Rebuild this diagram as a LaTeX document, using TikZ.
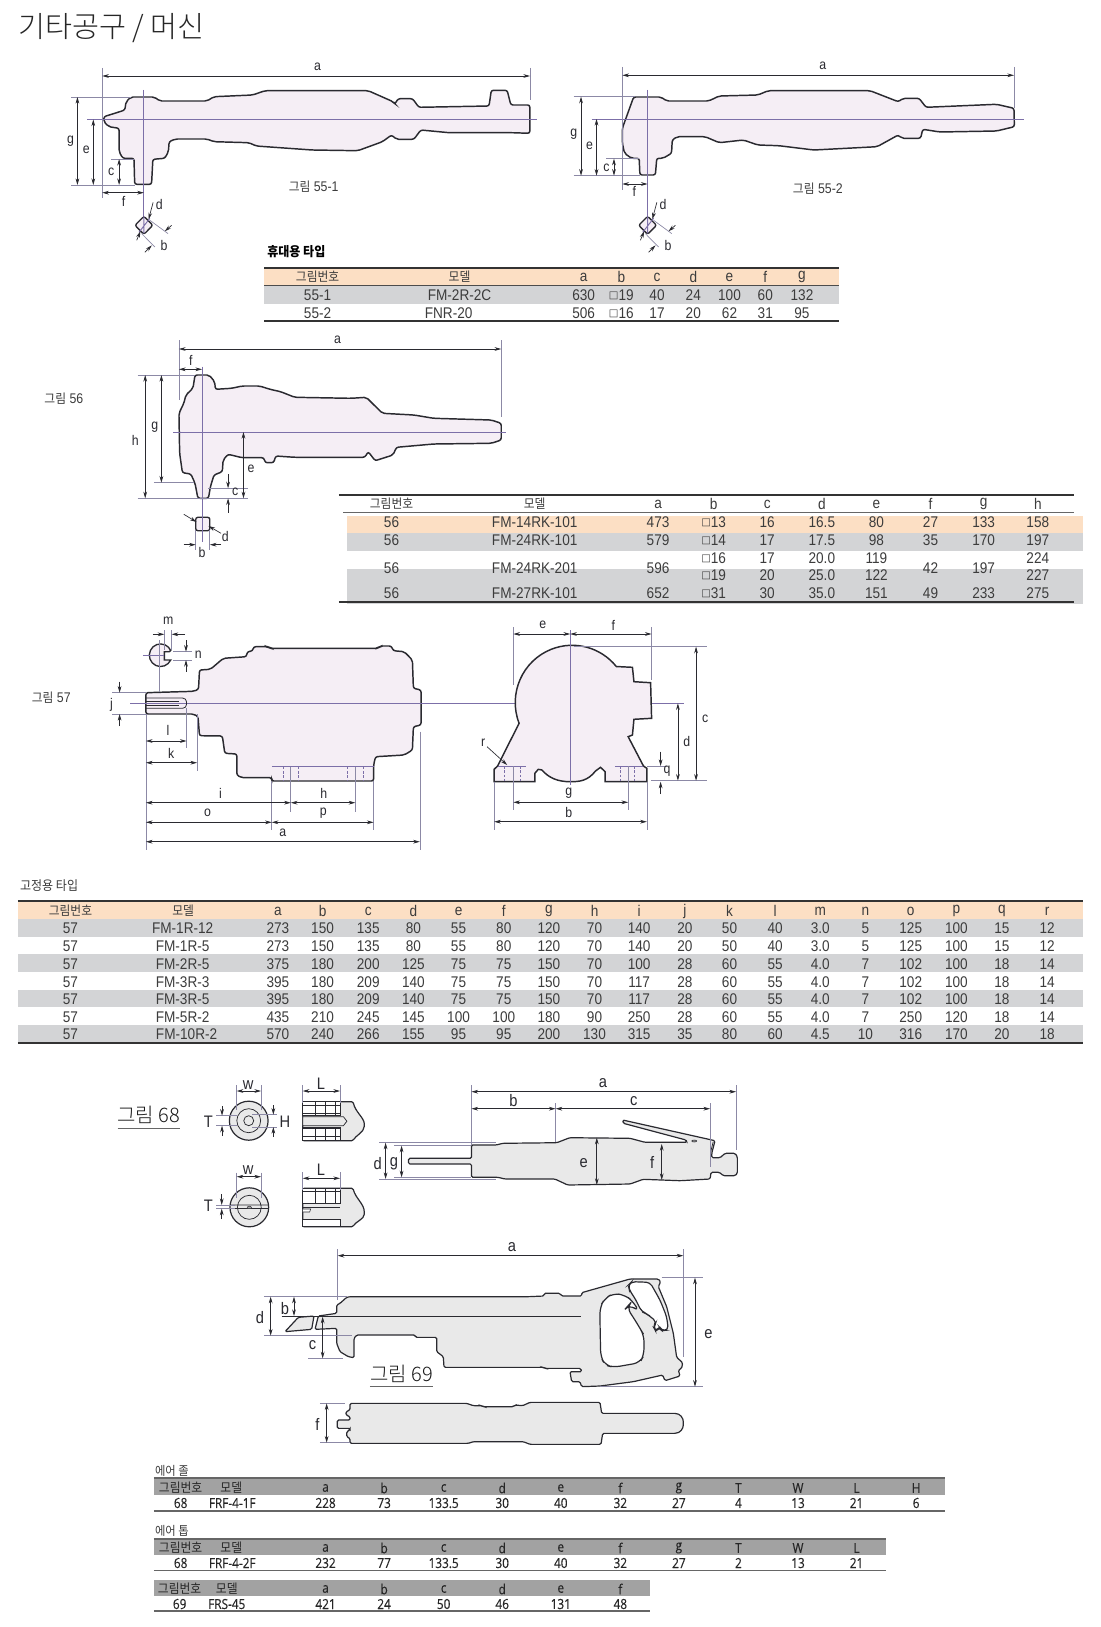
\documentclass[tikz,border=0pt]{standalone}
\usepackage{fontspec}
\usetikzlibrary{arrows.meta}
\setmainfont{Liberation Sans}[FakeStretch=0.88]
\newfontfamily\krfont{Noto Sans CJK KR}[FakeStretch=0.92]
\newfontfamily\krlight{Noto Sans CJK KR Light}
\newfontfamily\djfont{DejaVu Sans}
\newfontfamily\btfont{Open Sans}[FakeStretch=0.85,FakeBold=0.3]
\newcommand{\sqm}{\raisebox{1pt}{\djfont\fontsize{7.6}{8}\selectfont □}}
\newcommand{\kh}[1]{{\krfont\fontsize{9.6}{11}\selectfont #1}}
\definecolor{peach}{HTML}{FCDFC4}
\definecolor{bandg}{HTML}{D3D4D6}
\definecolor{darkb}{HTML}{A2A2A2}
\definecolor{toolf}{HTML}{F5EEF5}
\definecolor{greyf}{HTML}{E9E9E9}
\definecolor{ink}{HTML}{2A2A30}
\definecolor{cl}{HTML}{7C6FA8}
\definecolor{ex}{HTML}{8C89A6}
\definecolor{txt}{HTML}{3C3C3C}
\tikzset{
 cell/.style={inner sep=0pt,text=txt,font=\fontsize{11.6}{13}\selectfont},
 cellb/.style={inner sep=0pt,text=black!85,font=\btfont\fontsize{10.4}{13}\selectfont},
 lbl/.style={inner sep=0pt,text=ink,font=\fontsize{10.5}{12}\selectfont},
 lblb/.style={inner sep=0pt,text=ink,font=\fontsize{12.5}{14}\selectfont},
 tool/.style={draw=ink,fill=toolf,line width=1.1pt,rounded corners=1.6pt},
 gtool/.style={draw=ink,fill=greyf,line width=.9pt,rounded corners=1pt},
 thin/.style={draw=ink,line width=.55pt},
 dm/.style={draw=ink,line width=.5pt,{Stealth[length=5pt,width=2.8pt]}-{Stealth[length=5pt,width=2.8pt]}},
 dmo/.style={draw=ink,line width=.5pt,-{Stealth[length=5pt,width=2.8pt]}},
 ext/.style={draw=ex,line width=.5pt},
 ctr/.style={draw=cl,line width=.7pt},
 dsh/.style={draw=cl,line width=.5pt,dashed,dash pattern=on 2pt off 1.2pt},
 rule/.style={draw=black!80,line width=1.3pt},
}
\newcommand{\rowcells}[4]{\foreach \cx/\ct [count=\ci] in {#4} {\node[#3] (#1-\ci) at (\cx,#2) {\ct};}}
\begin{document}
\begin{tikzpicture}[x=0.7444pt,y=-0.75pt]
\useasboundingbox (0,0) rectangle (1108.3,1627);
\fill[white] (0,0) rectangle (1108.3,1627);
\node[anchor=west,inner sep=0pt,text=black!85] (title) at (18,28) {\krlight\fontsize{22}{26}\selectfont 기타공구 / 머신};

%% ---------- Fig 55-1
\path[tool] (104.6,116.7)--(118.8,112.3)--(125.8,110)--(127,101.7)--(132,97)--(155.5,97)--(161,101)--(208.5,101)--(215.6,96.7)--(254.5,95)--(267,90.7)--(371,90.7)--(396,101.7)--(398,104)--(401,98.7)--(415.7,98.7)--(422,107.3)--(492.7,106)--(495,90.3)--(511,90.3)--(514.7,105)--(533.8,105)--(533.8,133.3)--(516,132.7)--(452.5,132.7)--(424,130)--(417,139.3)--(399.4,139.3)--(394.5,135)--(385.3,141.7)--(360.5,150.7)--(314.6,150)--(258,146)--(251,142.7)--(215.6,141.7)--(208.5,139)--(176.7,139)--(170.4,141.7)--(169.7,151.7)--(166,158.3)--(154,159.3)--(152.7,184.3)--(135.7,184.3)--(135,158.3)--(123.7,158.3)--(120,151.7)--(120,128.3)--(109.6,126.7)--(104.6,121.7)--cycle;
\draw[ctr] (88,119.5)--(541,119.5);
\draw[ctr] (145,90)--(145,233);
\draw[ext] (103,68)--(103,198) (534,68)--(534,100) (72,97)--(132,97) (72,185)--(136,185) (112,159)--(135,159);
\draw[dm] (103,76)--(534,76);
\draw[dm] (78,97)--(78,185);
\draw[dm] (94,119.5)--(94,185);
\draw[dm] (120,159)--(120,185);
\draw[dm] (103,192.7)--(145,192.7);
\node[lbl] (a551) at (320,66.7) {a};
\node[lbl] (g551) at (71,140.7) {g};
\node[lbl] (e551) at (87,150) {e};
\node[lbl] (c551) at (112,172) {c};
\node[lbl] (f551) at (124.4,201.7) {f};
\node[lbl] (d551) at (160.5,204) {d};
\node[lbl] (b551) at (165.4,245) {b};
\node[cell,font=\fontsize{10.5}{12}\selectfont] (n551) at (316,186.7) {\kh{그림} 55-1};

%% ---------- Fig 55-2
\path[tool] (627,128.3)--(638.4,97)--(666,97)--(671.6,101)--(714,101)--(724.6,96)--(763.5,95)--(774,90.7)--(876.6,90.7)--(905,101.7)--(910,98.3)--(926,98.3)--(933,107.3)--(1004,104.3)--(1021.6,108.3)--(1022,126.7)--(1004,131)--(947,132)--(929.7,129.3)--(927.5,138.3)--(908.5,138.3)--(905,135)--(883.7,146.7)--(820,150)--(784.7,145.7)--(763.5,145)--(749,140)--(724.6,142.7)--(710.5,136.7)--(682.2,136.7)--(677.3,140)--(676.6,153.3)--(668,158.3)--(661.7,158.3)--(660.3,175)--(644.7,175)--(644,158.3)--(636.3,158.3)--(629.2,153.3)--(627,143)--cycle;
\draw[ctr] (596,119)--(1032,119);
\draw[ctr] (652.5,90)--(652.5,233);
\draw[ext] (627,67)--(627,190) (1021.6,67)--(1021.6,108) (578,96.7)--(640,96.7) (578,175.7)--(645,175.7) (611,158.7)--(644,158.7);
\draw[dm] (627,75.3)--(1021.6,75.3);
\draw[dm] (585.4,96.7)--(585.4,175.7);
\draw[dm] (601,119)--(601,175.7);
\draw[dm] (618.6,158.7)--(618.6,175.7);
\draw[dm] (627,184)--(652.5,184);
\node[lbl] (a552) at (829,66) {a};
\node[lbl] (g552) at (578,134.3) {g};
\node[lbl] (e552) at (594,146) {e};
\node[lbl] (c552) at (611,167.7) {c};
\node[lbl] (f552) at (639,191.7) {f};
\node[lbl] (d552) at (668,204) {d};
\node[lbl] (b552) at (673,245) {b};
\node[cell,font=\fontsize{10.5}{12}\selectfont] (n552) at (824,188.3) {\kh{그림} 55-2};

%% diamonds
\foreach \dx in {145,652.5}{
\begin{scope}[shift={(\dx,225.3)}]
\path[tool,line width=1pt,rounded corners=1.5pt] (0,-9)--(9,0)--(0,9)--(-9,0)--cycle;
\draw[ctr] (6,-7)--(-5,7) (0,-9)--(0,8);
\draw[ext] (6,-5)--(24.3,8.3) (-2.3,8.3)--(11,21.7);
\draw[dmo] (9.3,-23)--(4.7,-6);
\draw[dmo] (-7.3,15)--(-3.5,6);
\draw[dmo] (28,0)--(21,6);
\draw[dmo] (1,27)--(8,20);
\end{scope}}

%% ---------- Table 55
\node[anchor=west,inner sep=0pt] (t55lab) at (269,252) {\krfont\fontsize{9.8}{11}\selectfont\bfseries 휴대용 타입};
\fill[peach] (266,268) rectangle (845,285);
\fill[bandg] (266,286) rectangle (845,303.5);
\draw[rule] (266,268)--(845,268);
\draw[draw=black!70,line width=.7pt] (266,285.5)--(845,285.5);
\draw[rule] (266,321)--(845,321);
\rowcells{h55}{277}{cell}{320/\kh{그림번호},463/\kh{모델},588/a,626/b,662/c,698.5/d,735/e,771/f,808/g}
\rowcells{r551}{295}{cell}{320/55-1,463/FM-2R-2C,588/630,626/\sqm19,662/40,698.5/24,735/100,771/60,808/132}
\rowcells{r552}{313}{cell}{320/55-2,452/FNR-20,588/506,626/\sqm16,662/17,698.5/20,735/62,771/31,808/95}

%% ---------- Fig 56
\path[tool] (196.5,375)--(210.7,375)--(216.3,381.7)--(217,389.3)--(233.3,388.3)--(244,386)--(261.6,386)--(272,389.3)--(282.8,391.7)--(297,397.3)--(353.5,398.3)--(369,397.3)--(385.3,413.3)--(417,415)--(437,418.3)--(495,420)--(505,423.3)--(505,440)--(495,443.3)--(437,444)--(399.4,447.3)--(396,455)--(378,460.7)--(371,451.7)--(367.6,457.3)--(297,457.3)--(277.8,456)--(275.7,462.7)--(267.2,462.7)--(265.8,457.7)--(244,457.7)--(229.8,454.3)--(224.8,460)--(224,471.7)--(215.6,475)--(212,486.7)--(210,498.3)--(199.4,498.3)--(196.5,483.3)--(192.3,474)--(183.8,472.7)--(181,453.3)--(180.3,413.3)--(185.2,403.3)--(187.3,395)--(194.4,388.3)--cycle;
\draw[ctr] (174.6,432)--(510,432);
\draw[ctr] (203.6,366.7)--(203.6,541.7);
\draw[ext] (180.3,340)--(180.3,400) (505,340)--(505,416.7) (138.6,375)--(196,375) (138.6,498.3)--(250,498.3) (155,482.7)--(195,482.7) (210,488.3)--(250,488.3);
\draw[dm] (180.3,349)--(505,349);
\draw[dm] (180.3,369.3)--(203.6,369.3);
\draw[dm] (146.3,375)--(146.3,498.3);
\draw[dm] (162.6,375)--(162.6,482.7);
\draw[dm] (245.3,432)--(245.3,498.3);
\draw[dmo] (229.8,474)--(229.8,488.3);
\draw[dmo] (229.8,512.7)--(229.8,498.3);
\node[lbl] (a56) at (340,340) {a};
\node[lbl] (f56) at (192.3,360) {f};
\node[lbl] (h56) at (136.4,440) {h};
\node[lbl] (g56) at (156,427.3) {g};
\node[lbl] (e56) at (253,469) {e};
\node[lbl] (c56) at (237,492) {c};
\path[tool,line width=1pt] (197.2,517.3) rectangle (211.4,530.7);
\draw[ctr] (203.6,515)--(203.6,535);
\draw[ext] (197.2,530)--(197.2,550) (211.4,530)--(211.4,550);
\draw[dmo] (185.2,514.3)--(198,522);
\draw[dmo] (222.7,533.3)--(210,526);
\draw[dmo] (185,544.7)--(197.2,544.7);
\draw[dmo] (222.7,544.7)--(211.4,544.7);
\node[lbl] (d56) at (227,536) {d};
\node[lbl] (b56) at (203.6,552.3) {b};
\node[cell,font=\fontsize{10.5}{12}\selectfont] (n56) at (64.3,399) {\kh{그림} 56};

%% ---------- Table 56
\fill[peach] (350,515.7) rectangle (1091,533);
\fill[bandg] (350,533) rectangle (1091,551);
\fill[bandg] (350,568.5) rectangle (1091,604);
\draw[rule] (341.5,495)--(1082,495);
\draw[draw=black!60,line width=1pt] (346,512.7)--(1082,512.7);
\draw[rule] (341.5,601.7)--(1082,601.7);
\rowcells{h56t}{504}{cell}{394.5/\kh{그림번호},538.7/\kh{모델},663/a,719/b,773/c,828/d,883/e,937.5/f,991/g,1045.6/h}
\rowcells{r561}{522}{cell}{394.5/56,538.7/FM-14RK-101,663/473,719/\sqm13,773/16,828/16.5,883/80,937.5/27,991/133,1045.6/158}
\rowcells{r562}{540}{cell}{394.5/56,538.7/FM-24RK-101,663/579,719/\sqm14,773/17,828/17.5,883/98,937.5/35,991/170,1045.6/197}
\rowcells{r563}{557.7}{cell}{719/\sqm16,773/17,828/20.0,883/119,1045.6/224}
\rowcells{r564}{575}{cell}{719/\sqm19,773/20,828/25.0,883/122,1045.6/227}
\rowcells{r56m}{568}{cell}{394.5/56,538.7/FM-24RK-201,663/596,937.5/42,991/197}
\rowcells{r565}{593}{cell}{394.5/56,538.7/FM-27RK-101,663/652,719/\sqm31,773/30,828/35.0,883/151,937.5/49,991/233,1045.6/275}

%% ---------- Fig 57 side view
\path[tool] (147,692.7)--(195.2,691.3)--(200,689.3)--(201,670)--(212,669.3)--(225,658.3)--(248.2,656.7)--(249.2,651.7)--(254.5,651)--(255.5,646.7)--(270,646.7)--(272.3,648.3)--(380.8,648.3)--(383.2,646)--(394.3,646)--(396.2,650.7)--(407.3,651.7)--(415.5,660)--(416.5,688.3)--(424.2,690)--(424.2,725)--(416.5,726.7)--(415.5,750)--(407.3,755)--(378.4,756.7)--(376.4,765)--(376.4,781)--(273.8,781)--(273.8,777.7)--(243.4,777.7)--(238.6,775)--(238.6,754)--(226.5,753.3)--(224,736)--(201,735.7)--(199.5,716.7)--(195.2,714)--(147,714)--cycle;
\draw[ctr] (273.8,766.7)--(376.4,766.7);
\draw[dsh] (285.8,766.7)--(285.8,781) (300.3,766.7)--(300.3,781) (350.4,766.7)--(350.4,781) (365.8,766.7)--(365.8,781);
\draw[ext] (293,766.7)--(293,811.7) (358,766.7)--(358,811.7);
\draw[ctr] (131,703.3)--(689,703.3);
\draw[draw=ink,line width=.6pt,rounded corners=3pt] (147,698)--(188,698)--(188,708.3)--(147,708.3);
\draw[draw=ink,line width=.3pt] (147,701)--(180,701) (147,705.5)--(180,705.5);
% key section
\path[draw=ink,fill=toolf,line width=1pt] (170.6,651.7)--(165.6,651.7)--(165.6,660)--(172,660) arc[start angle=25,end angle=335,radius=11.3]--cycle;
\draw[ctr] (144,655)--(165,655);
\draw[ext] (160.5,640)--(160.5,692);
\draw[ext] (165.6,630)--(165.6,650) (172.9,630)--(172.9,650) (174.6,651.7)--(193,651.7) (174.6,660)--(193,660);
\draw[dmo] (153.9,634.3)--(165.6,634.3);
\draw[dmo] (186.4,634.3)--(172.9,634.3);
\draw[dmo] (187.4,640)--(187.4,651.7);
\draw[dmo] (187.4,671.7)--(187.4,660);
\draw[ext] (113,692.7)--(147,692.7) (113,714)--(147,714);
\draw[dmo] (120.5,681.7)--(120.5,692.7);
\draw[dmo] (120.5,726)--(120.5,714);
\draw[ext] (147,714)--(147,850) (188,708)--(188,748) (198.6,714)--(198.6,770.7) (423,731.7)--(423,850) (273.8,781)--(273.8,830) (376.4,781)--(376.4,830);
\draw[dm] (147,741)--(188,741);
\draw[dm] (147,762.7)--(198.6,762.7);
\draw[dm] (147,802.7)--(293,802.7);
\draw[dm] (293,802.7)--(358,802.7);
\draw[dm] (147,822.3)--(273.8,822.3);
\draw[dm] (273.8,822.3)--(376.4,822.3);
\draw[dm] (147,841.7)--(423,841.7);
\node[lbl] (m57) at (169.6,620.7) {m};
\node[lbl] (n57) at (199.8,655) {n};
\node[lbl] (j57) at (112.3,705) {j};
\node[lbl] (l57) at (169.2,730.7) {l};
\node[lbl] (k57) at (172.6,753.3) {k};
\node[lbl] (i57) at (222.2,793.3) {i};
\node[lbl] (h57) at (326.3,793.3) {h};
\node[lbl] (o57) at (209.2,812.7) {o};
\node[lbl] (p57) at (325.8,812.7) {p};
\node[lbl] (a57) at (284.9,832.7) {a};
\node[cell,font=\fontsize{10.5}{12}\selectfont] (n57l) at (51.6,697.3) {\kh{그림} 57};

%% Fig 57 front view
\path[draw=ink,fill=toolf,line width=1.1pt] (523,723.3) arc[start angle=158.8,end angle=321,radius=57.3]--(637.2,667.3)--(638.7,681.7)--(655.5,682.7)--(656.5,718.3)--(638.7,719.3)--(637.2,735)--(632.9,736.7)--(648.3,766)--(651.7,768.3)--(651.7,781.7)--(609.7,781.7)--(609.7,771.7)--(605,767.3)--(600,771) .. controls (592,781) and (584,781.7) .. (574.5,781.7) .. controls (562,781.7) and (553,778) .. (546,770)--(542.3,769.3)--(538.9,773.3)--(538.9,781.7)--(497.9,781.7)--(497.9,769.3)--(501.3,766)--cycle;
\draw[ctr] (574.5,630)--(574.5,785);
\draw[ctr] (501.3,766)--(530,766) (619.4,766)--(648.3,766);
\draw[dsh] (508.5,766)--(508.5,781.7) (524.4,766)--(524.4,781.7) (625,766)--(625,781.7) (639.6,766)--(639.6,781.7);
\draw[ext] (517.2,627)--(517.2,685) (656.5,627)--(656.5,680) (578,646.7)--(712,646.7) (656,780.7)--(712,780.7) (652,766)--(672,766);
\draw[ext] (517.2,766)--(517.2,810) (632.9,766)--(632.9,810) (497.9,781.7)--(497.9,830) (651.7,781.7)--(651.7,830);
\draw[dm] (517.2,634)--(574.5,634);
\draw[dm] (574.5,634)--(656.5,634);
\draw[dm] (701.3,646.7)--(701.3,780.7);
\draw[dm] (683,703.3)--(683,780.7);
\draw[dmo] (665.6,751.7)--(665.6,766);
\draw[dmo] (665.6,794)--(665.6,781.7);
\draw[dm] (517.2,802.3)--(632.9,802.3);
\draw[dm] (497.9,821.7)--(651.7,821.7);
\draw[dmo] (490.7,746.7)--(511,765);
\node[lbl] (e57) at (547,625) {e};
\node[lbl] (f57) at (618,625) {f};
\node[lbl] (c57) at (710.5,719) {c};
\node[lbl] (d57) at (692,741.7) {d};
\node[lbl] (q57) at (672,771) {q};
\node[lbl] (g57) at (573,793.3) {g};
\node[lbl] (b57) at (573,812) {b};
\node[lbl] (r57) at (486.8,742.3) {r};

%% ---------- Table 57
\node[anchor=west,inner sep=0pt,text=txt] (t57lab) at (20,886) {\krfont\fontsize{9.8}{11}\selectfont 고정용 타입};
\fill[peach] (18,901) rectangle (1091,919);
\foreach \ya/\yb in {919/936.7,954/972,990/1007,1025/1042.7}{\fill[bandg] (18,\ya) rectangle (1091,\yb);}
\draw[rule] (18,901)--(1091,901);
\draw[rule] (18,1043)--(1091,1043);
\rowcells{h57t}{911}{cell}{71/\kh{그림번호},184.5/\kh{모델},280/a,325/b,371/c,416.5/d,462/e,507.6/f,553/g,599/h,644/i,690/j,735/k,781/l,826.5/m,872/n,917.6/o,963.6/p,1009.5/q,1055/r}
\newcommand{\rowft}[3]{\rowcells{#1}{#2}{cell}{71/57,#3}}
\rowft{q1}{928}{184/FM-1R-12,280/273,325/150,371/135,416.5/80,462/55,507.6/80,553/120,599/70,644/140,690/20,735/50,781/40,826.5/3.0,872/5,917.6/125,963.6/100,1009.5/15,1055/12}
\rowft{q2}{946}{184/FM-1R-5,280/273,325/150,371/135,416.5/80,462/55,507.6/80,553/120,599/70,644/140,690/20,735/50,781/40,826.5/3.0,872/5,917.6/125,963.6/100,1009.5/15,1055/12}
\rowft{q3}{964}{184/FM-2R-5,280/375,325/180,371/200,416.5/125,462/75,507.6/75,553/150,599/70,644/100,690/28,735/60,781/55,826.5/4.0,872/7,917.6/102,963.6/100,1009.5/18,1055/14}
\rowft{q4}{982}{184/FM-3R-3,280/395,325/180,371/209,416.5/140,462/75,507.6/75,553/150,599/70,644/117,690/28,735/60,781/55,826.5/4.0,872/7,917.6/102,963.6/100,1009.5/18,1055/14}
\rowft{q5}{999}{184/FM-3R-5,280/395,325/180,371/209,416.5/140,462/75,507.6/75,553/150,599/70,644/117,690/28,735/60,781/55,826.5/4.0,872/7,917.6/102,963.6/100,1009.5/18,1055/14}
\rowft{q6}{1017}{184/FM-5R-2,280/435,325/210,371/245,416.5/145,462/100,507.6/100,553/180,599/90,644/250,690/28,735/60,781/55,826.5/4.0,872/7,917.6/250,963.6/120,1009.5/18,1055/14}
\rowft{q7}{1034}{188/FM-10R-2,280/570,325/240,371/266,416.5/155,462/95,507.6/95,553/200,599/130,644/315,690/35,735/80,781/60,826.5/4.5,872/10,917.6/316,963.6/170,1009.5/20,1055/18}

%% ---------- Fig 68
\node[inner sep=0pt,text=black!90] (n68) at (150,1115) {\krlight\fontsize{15}{18}\selectfont 그림 68};
\draw[draw=black!60,line width=.6pt] (118.4,1128.3)--(181.7,1128.3);
% top end view
\path[draw=ink,fill=greyf,line width=.9pt] (250.6,1120.7) circle[radius=19.5];
\draw[thin] (250.6,1120.7) circle[radius=12] (250.6,1120.7) circle[radius=5];
\draw[ext] (238.5,1085)--(238.5,1110) (263,1085)--(263,1110) (218,1115.7)--(238.5,1115.7) (218,1125.7)--(238.5,1125.7) (254,1114.7)--(279,1114.7) (254,1127)--(279,1127);
\draw[dm] (238.5,1091)--(263,1091);
\draw[dmo] (223.7,1106)--(223.7,1115.7);
\draw[dmo] (223.7,1136)--(223.7,1125.7);
\draw[dmo] (275.4,1105)--(275.4,1114.7);
\draw[dmo] (275.4,1137)--(275.4,1127);
\node[lblb] (w68a) at (250,1085) {w};
\node[lblb] (t68a) at (210,1121.7) {T};
\node[lblb] (h68a) at (287,1121.7) {H};
% top side view
\path[gtool] (305,1101.7)--(355.7,1101.7) .. controls (358,1112) and (367,1118) .. (367,1125) .. controls (367,1132) and (358,1136) .. (355.7,1140.7)--(305,1140.7)--cycle;
\fill[white,draw=ink,line width=.55pt] (305,1101.7) rectangle (342.6,1115);
\fill[white,draw=ink,line width=.55pt] (305,1127) rectangle (342.6,1140.7);
\draw[thin] (305,1105)--(342.6,1105) (305,1113.3)--(342.6,1113.3) (305,1128.3)--(342.6,1128.3) (305,1136.7)--(342.6,1136.7) (317.4,1101.7)--(317.4,1115) (327.5,1101.7)--(327.5,1115) (337.5,1101.7)--(337.5,1115) (317.4,1127)--(317.4,1140.7) (327.5,1127)--(327.5,1140.7) (337.5,1127)--(337.5,1140.7);
\path[draw=ink,fill=greyf,line width=.55pt] (305,1116.7)--(346,1116.7)--(349.5,1121.2)--(346,1125.7)--(305,1125.7)--cycle;
\draw[ext] (305,1085)--(305,1103) (342.6,1085)--(342.6,1103);
\draw[dm] (305,1091)--(342.6,1091);
\node[lblb] (l68a) at (323.3,1084) {L};
% bottom end view
\path[draw=ink,fill=greyf,line width=.9pt] (251.2,1207.3) circle[radius=19.5];
\draw[thin] (251.2,1207.3) circle[radius=12] (232.5,1205)--(270,1205) (232.5,1208.6)--(270,1208.6);
\path[draw=ink,fill=black!35,line width=.4pt] (248.7,1208.6) arc[start angle=180,end angle=360,radius=2.5]--cycle;
\draw[ext] (238.5,1172.7)--(238.5,1198) (263,1172.7)--(263,1198) (218,1205)--(237,1205) (218,1208.6)--(237,1208.6);
\draw[dm] (238.5,1176.7)--(263,1176.7);
\draw[dmo] (223.4,1194)--(223.4,1205);
\draw[dmo] (223.4,1219)--(223.4,1208.6);
\node[lblb] (w68b) at (250,1170) {w};
\node[lblb] (t68b) at (210,1206) {T};
% bottom side view
\path[gtool] (305,1188.3)--(355.7,1188.3) .. controls (358,1198) and (367,1204) .. (367,1213) .. controls (367,1219) and (358,1222) .. (355.7,1226.7)--(305,1226.7)--cycle;
\fill[white,draw=ink,line width=.55pt] (305,1188.3) rectangle (342.6,1203.3);
\fill[white,draw=ink,line width=.55pt] (305,1219.3) rectangle (342.6,1226.7);
\draw[thin] (305,1191.7)--(342.6,1191.7) (305,1207.7)--(342.6,1207.7) (317.4,1188.3)--(317.4,1203.3) (327.5,1188.3)--(327.5,1203.3) (337.5,1188.3)--(337.5,1203.3);
\path[draw=ink,fill=white,line width=.4pt] (305,1209)--(313,1209)--(312,1212)--(305,1212)--cycle;
\draw[ext] (305,1172)--(305,1190) (342.6,1172)--(342.6,1190);
\draw[dm] (305,1178.3)--(342.6,1178.3);
\node[lblb] (l68b) at (323.3,1169.3) {L};
% air chisel
\path[gtool] (475,1145)--(475,1158.3)--(411.6,1158.3)--(411.6,1164)--(475,1164)--(475,1177.3)--(502,1177.3)--(508.7,1179)--(559,1179)--(572,1185)--(634.8,1184)--(648,1179.3)--(685.2,1180.7)--(715.4,1179)--(716.4,1172.3)--(724.8,1172.3)--(728.8,1175.7)--(740.6,1175.7)--(742.9,1173.3)--(742.9,1156.7)--(740.6,1153.3)--(730.5,1153.3)--(725.5,1157.7)--(717.1,1157.7)--(717.1,1153.3)--(720.4,1140.7)--(627.4,1120)--(628,1123.3)--(691.2,1140)--(692,1142.3)--(649.9,1142.3)--(634.8,1138.3)--(574,1137.7)--(561,1142.7)--(506.5,1143.3)--(500,1145)--cycle;
\path[draw=ink,fill=black!40,line width=.4pt] (699.4,1141) ellipse[x radius=2.5,y radius=1];
\draw[thin] (718.5,1142)--(716,1152);
\draw[ext] (475,1085)--(475,1145) (741.6,1085)--(741.6,1150) (559.8,1103)--(559.8,1142) (715.4,1103)--(715.4,1166.7) (382,1142.7)--(500,1142.7) (382,1179)--(500,1179) (397,1145.7)--(475,1145.7) (397,1177.3)--(475,1177.3);
\draw[dm] (475,1091.7)--(741.6,1091.7);
\draw[dm] (475,1108.7)--(559.8,1108.7);
\draw[dm] (559.8,1108.7)--(715.4,1108.7);
\draw[dm] (388.5,1142.7)--(388.5,1179);
\draw[dm] (404.6,1145.7)--(404.6,1177.3);
\draw[dm] (601.3,1137.7)--(601.3,1185);
\draw[dm] (666.7,1144)--(666.7,1180);
\node[lblb] (a68) at (607.4,1083.3) {a};
\node[lblb] (b68) at (517.4,1101) {b};
\node[lblb] (c68) at (638.5,1101) {c};
\node[lblb] (d68) at (380.6,1163.3) {d};
\node[lblb] (g68) at (397,1163.3) {g};
\node[lblb] (e68) at (588.2,1162.7) {e};
\node[lblb] (f68) at (657,1162.7) {f};

%% ---------- Fig 69 (in 3x crop coordinates)
\begin{scope}[shift={(241.8,1240)},x=0.25pt,y=-0.25pt]
\path[gtool] (330,170)--(865,170)--(912,168)--(912,160)--(960,160)--(965,168)--(1025,168)--(1025,158)--(1170,117)--(1255,117)--(1262,125)--(1255,140)--(1280,200)--(1300,280)--(1310,352)--(1328,368)--(1325,385)--(1315,390)--(1320,408)--(1275,422)--(1268,405)--(1180,425)--(1080,438)--(1025,440)--(1020,425)--(995,425)--(990,395)--(1025,395)--(1022,385)--(915,385)--(910,382)--(612,382)--(610,350)--(590,335)--(590,292)--(527,292)--(525,285)--(350,285)--(342,295)--(342,353)--(325,350)--(300,335)--(290,310)--(290,265)--(225,268)--(235,228)--(290,220)--(290,195)--(300,190)--(320,172)--cycle;
\path[draw=ink,fill=white,line width=.9pt,rounded corners=5pt] (1080,240)--(1080,200)--(1095,175)--(1120,160)--(1155,165)--(1180,185)--(1197,215)--(1168,193)--(1160,202)--(1185,240)--(1200,265)--(1212,285)--(1212,345)--(1200,368)--(1120,382)--(1095,375)--(1082,350)--cycle;
\path[draw=ink,fill=white,line width=.9pt,rounded corners=3pt] (1165,135)--(1168,150)--(1185,175)--(1205,215)--(1218,220)--(1250,245)--(1240,260)--(1248,275)--(1258,260)--(1265,272)--(1285,270)--(1280,230)--(1260,180)--(1230,127)--(1175,125)--cycle;
\path[gtool] (175,232)--(222,228)--(215,268)--(135,275)--cycle;
\draw[thin] (125,230)--(1022,230);
\draw[ext] (72,170)--(320,170) (72,287)--(335,287) (205,355)--(310,355) (1265,113)--(1390,113) (1080,440)--(1390,440) (293,28)--(293,180) (1330,28)--(1330,350);
\draw[dm] (293,47)--(1330,47);
\draw[dm] (162,170)--(162,228);
\draw[dm] (92,170)--(92,287);
\draw[dm] (248,230)--(248,355);
\draw[dm] (1365,113)--(1365,440);
\node[lblb] (a69) at (816,20) {a};
\node[lblb] (b69) at (135,205) {b};
\node[lblb] (d69) at (60,233) {d};
\node[lblb] (c69) at (218,315) {c};
\node[lblb] (e69) at (1405,283) {e};
\node[inner sep=0pt,text=black!90] (n69) at (485,403) {\krlight\fontsize{15}{18}\selectfont 그림 69};
\draw[draw=black!60,line width=.6pt] (390,438)--(578,438);
\path[gtool] (330,490)--(680,490)--(700,497)--(725,497)--(730,500)--(820,500)--(825,495)--(848,497)--(870,487)--(1080,487)--(1085,520)--(1300,520) .. controls (1322,520) and (1330,535) .. (1330,550) .. controls (1330,565) and (1322,580) .. (1300,580)--(1088,580)--(1083,613)--(870,613)--(850,605)--(700,605)--(685,610)--(330,610)--(330,595)--(320,590)--(320,575)--(330,570)--(330,565)--(292,565)--(292,540)--(330,540)--(330,530)--(318,525)--(318,515)--(330,510)--cycle;
\draw[ext] (240,490)--(315,490) (240,608)--(330,608);
\draw[dm] (260,490)--(260,608);
\node[lblb] (f69) at (232,553) {f};
\end{scope}

%% ---------- bottom tables
\node[anchor=west,inner sep=0pt,text=txt] (t68alab) at (156,1471) {\krfont\fontsize{9.2}{10}\selectfont 에어 졸};
\fill[darkb] (155,1478) rectangle (952,1495);
\draw[draw=black!60,line width=1pt] (155,1478)--(952,1478);
\draw[draw=black!60,line width=1pt] (155,1511)--(952,1511);
\rowcells{h68a}{1488}{cellb}{182/\kh{그림번호},233/\kh{모델},328/a,387/b,447/c,506/d,565/e,625/f,684/g,744/T,804/W,863/L,923/H}
\rowcells{r68a}{1503}{cellb}{182/68,234/FRF-4-1F,328/228,387/73,447/133.5,506/30,565/40,625/32,684/27,744/4,804/13,863/21,923/6}

\node[anchor=west,inner sep=0pt,text=txt] (t68blab) at (156,1531) {\krfont\fontsize{9.2}{10}\selectfont 에어 톱};
\fill[darkb] (155,1539) rectangle (893,1555);
\draw[draw=black!60,line width=1pt] (155,1539)--(893,1539);
\draw[draw=black!60,line width=1pt] (155,1570.7)--(893,1570.7);
\rowcells{h68b}{1548}{cellb}{182/\kh{그림번호},233/\kh{모델},328/a,387/b,447/c,506/d,565/e,625/f,684/g,744/T,804/W,863/L}
\rowcells{r68b}{1563}{cellb}{182/68,234/FRF-4-2F,328/232,387/77,447/133.5,506/30,565/40,625/32,684/27,744/2,804/13,863/21}

\fill[darkb] (155,1580) rectangle (655,1596);
\draw[draw=black!60,line width=1pt] (155,1611)--(655,1611);
\rowcells{h69t}{1589}{cellb}{181/\kh{그림번호},228.5/\kh{모델},328/a,387/b,447/c,506/d,565/e,625/f}
\rowcells{r69t}{1604}{cellb}{181/69,228.5/FRS-45,328/421,387/24,447/50,506/46,565/131,625/48}
\end{tikzpicture}
\end{document}
